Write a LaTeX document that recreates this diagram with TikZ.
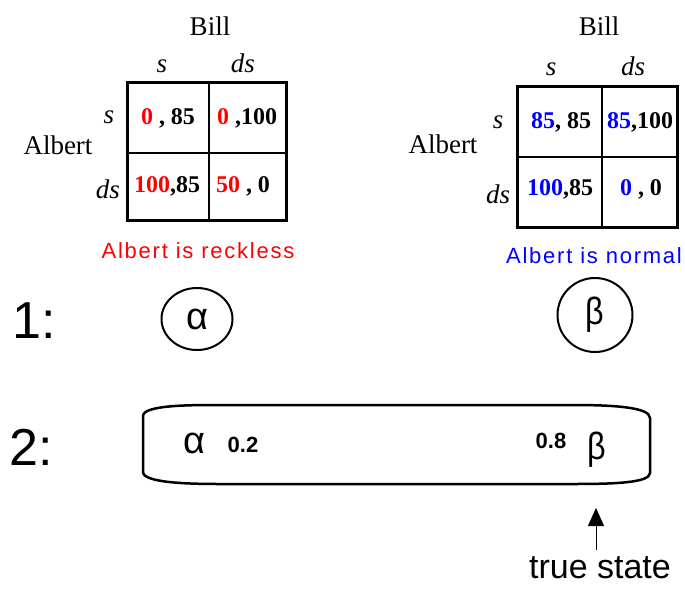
\documentclass[tikz,border=0pt]{standalone}
\usepackage{fontspec}
\setmainfont{Liberation Serif}
\setsansfont{Liberation Sans}
\usetikzlibrary{arrows.meta,positioning,calc,shapes.geometric}
\newcommand{\fsz}[1]{\fontsize{#1}{#1}\selectfont}

\begin{document}
\begin{tikzpicture}[x=1pt, y=-1pt, >=Triangle,
    lbl/.style={font=\fsz{27}, inner sep=0, anchor=base},
    ilbl/.style={font=\fsz{27}\itshape, inner sep=0, anchor=base},
    pay/.style={font=\fsz{24}\bfseries, inner sep=0, anchor=base},
    note/.style={font=\sffamily\fsz{22}\addfontfeature{LetterSpace=8}, inner sep=0, anchor=base},
    big/.style={font=\sffamily\fsz{52}, inner sep=0, anchor=base},
    greek/.style={font=\sffamily\fsz{38}, inner sep=0, anchor=base},
    prob/.style={font=\sffamily\bfseries\fsz{22}, inner sep=0, anchor=base},
    state/.style={draw, line width=2pt, ellipse, inner sep=0}]
        \useasboundingbox (0,0) rectangle (685,589);
        % reckless Albert
        \draw[line width=3pt] (127,82) rectangle (286,220);
        \draw[line width=1.5pt] (209,82) -- (209,220);
        \draw[line width=1.5pt] (127,153) -- (286,153);
        \node[lbl] (billL) at (210,35) {Bill};
        \node[ilbl] (csL) at (162,72) {s};
        \node[ilbl] (cdsL) at (243,72) {ds};
        \node[lbl] (albertL) at (58,154) {Albert};
        \node[ilbl] (rsL) at (109,123) {s};
        \node[ilbl] (rdsL) at (108,198) {ds};
        \node[pay] (l11) at (168,124) {\textcolor{red}{0} , 85};
        \node[pay] (l12) at (247,124) {\textcolor{red}{0} ,100};
        \node[pay] (l21) at (167,192) {\textcolor{red}{100},85};
        \node[pay] (l22) at (243,192) {\textcolor{red}{50} , 0};
        \node[note, red] (reckless) at (198,258) {Albert is reckless};
        % normal Albert
        \draw[line width=3pt] (517,86) rectangle (677,227);
        \draw[line width=1.5pt] (602,86) -- (602,227);
        \draw[line width=1.5pt] (517,157) -- (677,157);
        \node[lbl] (billR) at (599,35) {Bill};
        \node[ilbl] (csR) at (551,75) {s};
        \node[ilbl] (cdsR) at (633,75) {ds};
        \node[lbl] (albertR) at (443,153) {Albert};
        \node[ilbl] (rsR) at (498,128) {s};
        \node[ilbl] (rdsR) at (498,203) {ds};
        \node[pay] (r11) at (561,128) {\textcolor{blue}{85}, 85};
        \node[pay] (r12) at (640,128) {\textcolor{blue}{85},100};
        \node[pay] (r21) at (560,195) {\textcolor{blue}{100},85};
        \node[pay] (r22) at (641,195) {\textcolor{blue}{0} , 0};
        \node[note, blue] (normal) at (594,263) {Albert is normal};
        % stage 1
        \node[big] (one) at (34,338) {1:};
        \node[state, minimum width=71, minimum height=62] (alpha) at (197,319) {\sffamily\fsz{38}α};
        \node[state, minimum width=75, minimum height=74] (beta) at (595,315) {\sffamily\fsz{38}\scalebox{0.85}[1]{β}};
        % stage 2
        \node[big] (two) at (31,465) {2:};
        \draw[line width=2.5pt] (143,416) .. controls (143,405) and (190,405) .. (220,405)
            -- (573,405) .. controls (612,405) and (650,407) .. (650,418)
            -- (650,473) .. controls (650,483) and (612,484) .. (573,484)
            -- (220,484) .. controls (190,484) and (143,483) .. (143,472) -- cycle;
        \node[greek] (alpha2) at (194,453) {α};
        \node[prob] (palpha) at (243,452) {0.2};
        \node[prob] (pbeta) at (551,448) {0.8};
        \node[greek] (beta2) at (597,459) {\scalebox{0.85}[1]{β}};
        % true state
        \node[font=\sffamily\fsz{34}, inner sep=0, anchor=base] (true) at (600,578) {true state};
        \coordinate (tail) at (596,550);
        \coordinate (tip) at (596,508);
        \draw[line width=1pt, -{Triangle[length=18pt, width=16pt]}] (tail) -- (tip);
      \end{tikzpicture}
\end{document}
